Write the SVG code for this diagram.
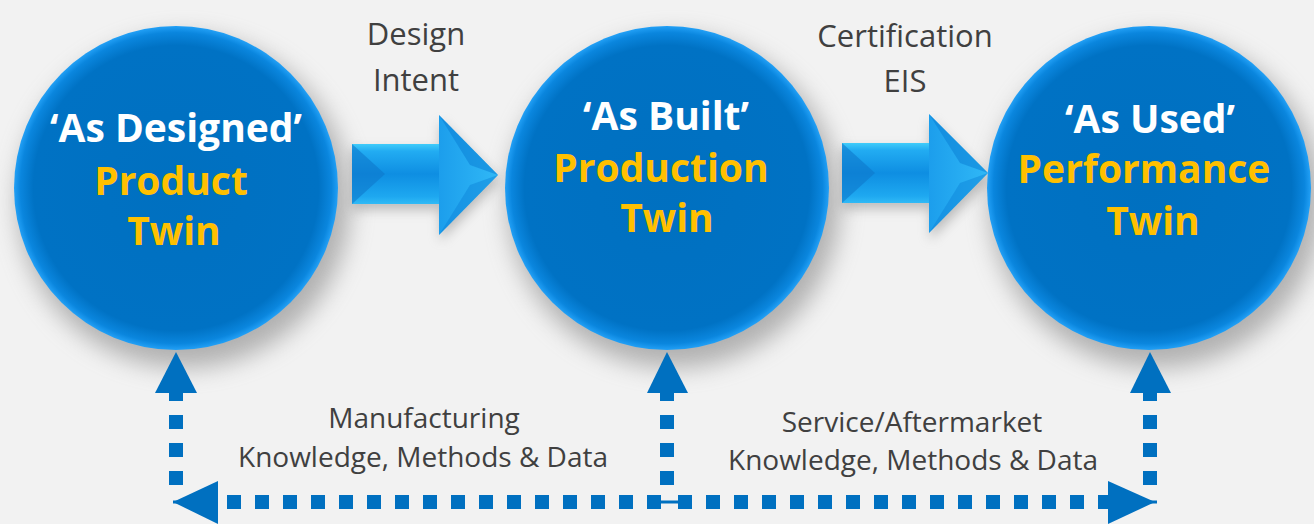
<svg xmlns="http://www.w3.org/2000/svg" width="1314" height="524" viewBox="0 0 1314 524">
<style>
.lbl{font-family:"Open Sans","Liberation Sans",sans-serif;font-size:28px;fill:#404040;text-anchor:middle}
.top{font-size:31px}
.ttl{font-family:"Open Sans","Liberation Sans",sans-serif;font-weight:700;font-size:39px;text-anchor:middle}
.w{fill:#ffffff}
.y{fill:#ffc000}
.dot{fill:none;stroke:#0070c0;stroke-width:14;stroke-dasharray:14 14}
.thin{stroke:#0070c0;stroke-width:3}
.head{fill:#0070c0}
</style>
<defs>
<radialGradient id="cg" cx="0.5" cy="0.5" r="0.5">
<stop offset="0" stop-color="#0070c0"/>
<stop offset="0.88" stop-color="#0072c4"/>
<stop offset="0.96" stop-color="#0a86de"/>
<stop offset="1" stop-color="#22a0f6"/>
</radialGradient>
<linearGradient id="bodyg" x1="0" y1="0" x2="0" y2="1">
<stop offset="0" stop-color="#40ccfa"/>
<stop offset="0.12" stop-color="#22acf2"/>
<stop offset="0.5" stop-color="#0e8ee2"/>
<stop offset="0.88" stop-color="#1ea8f0"/>
<stop offset="1" stop-color="#30baf6"/>
</linearGradient>
<linearGradient id="headg" x1="0" y1="0" x2="1" y2="0">
<stop offset="0" stop-color="#1c9eec"/>
<stop offset="1" stop-color="#30b8f6"/>
</linearGradient>
<filter id="sh" x="-30%" y="-30%" width="160%" height="160%">
<feGaussianBlur stdDeviation="12"/>
</filter>
<filter id="ash" x="-30%" y="-50%" width="160%" height="200%">
<feGaussianBlur stdDeviation="6"/>
</filter>
</defs>
<rect width="1314" height="524" fill="#f2f2f2"/>

<g id="shadows">
<circle cx="184" cy="202" r="166" fill="#7a7a7a" opacity="0.55" filter="url(#sh)"/>
<circle cx="674" cy="202" r="166" fill="#7a7a7a" opacity="0.55" filter="url(#sh)"/>
<circle cx="1156" cy="202" r="166" fill="#7a7a7a" opacity="0.55" filter="url(#sh)"/>
<path d="M352,150 H440 V121 L500,181 L440,241 V210 H352 Z" fill="#888" opacity="0.5" filter="url(#ash)"/>
<path d="M842,149 H930 V120 L990,180 L930,240 V209 H842 Z" fill="#888" opacity="0.5" filter="url(#ash)"/>
</g>

<g id="arrow1">
<rect x="352" y="144" width="88" height="60" fill="url(#bodyg)"/>
<polygon points="352,144 385,174 352,204" fill="#0d78cc" opacity="0.6"/>
<polygon points="439,115 498,175 439,235" fill="url(#headg)"/>
<polygon points="439,115 470,165 498,175" fill="#0b80d6" opacity="0.55"/>
<polygon points="439,235 470,185 498,175" fill="#0b80d6" opacity="0.45"/>
</g>
<g id="arrow2">
<rect x="842" y="143" width="88" height="60" fill="url(#bodyg)"/>
<polygon points="842,143 875,173 842,203" fill="#0d78cc" opacity="0.6"/>
<polygon points="929,114 988,173 929,233" fill="url(#headg)"/>
<polygon points="929,114 960,163 988,173" fill="#0b80d6" opacity="0.55"/>
<polygon points="929,233 960,183 988,173" fill="#0b80d6" opacity="0.45"/>
</g>

<g id="node-designed">
<circle cx="176" cy="188" r="162" fill="url(#cg)"/>
<text class="ttl w" x="176" y="142">‘As Designed’</text>
<text class="ttl y" x="171" y="195">Product</text>
<text class="ttl y" x="174" y="245">Twin</text>
</g>
<g id="node-built">
<circle cx="667" cy="188" r="162" fill="url(#cg)"/>
<text class="ttl w" x="666" y="130">‘As Built’</text>
<text class="ttl y" x="661" y="182">Production</text>
<text class="ttl y" x="667" y="232">Twin</text>
</g>
<g id="node-used">
<circle cx="1149" cy="188" r="162" fill="url(#cg)"/>
<text class="ttl w" x="1150" y="133">‘As Used’</text>
<text class="ttl y" x="1144" y="183">Performance</text>
<text class="ttl y" x="1153" y="235">Twin</text>
</g>

<g id="labels">
<text class="lbl top" x="416" y="45">Design</text>
<text class="lbl top" x="416" y="91">Intent</text>
<text class="lbl top" x="905" y="47">Certification</text>
<text class="lbl top" x="905" y="92">EIS</text>
<text class="lbl" x="424" y="428">Manufacturing</text>
<text class="lbl" x="423" y="467">Knowledge, Methods &amp; Data</text>
<text class="lbl" x="912" y="432">Service/Aftermarket</text>
<text class="lbl" x="913" y="470">Knowledge, Methods &amp; Data</text>
</g>

<g id="connectors">
<path class="dot" d="M176,387 V490"/>
<path class="dot" d="M667,387 V490"/>
<path class="dot" d="M1150,387 V490"/>
<path class="dot" d="M227,502 H663"/>
<path class="dot" d="M678,502 H1108"/>
<line class="thin" x1="173" y1="502" x2="183" y2="502"/>
<line class="thin" x1="660" y1="502" x2="680" y2="502"/>
<line class="thin" x1="1150" y1="502" x2="1157" y2="502"/>
<polygon class="head" points="176,352 155,393 197,393"/>
<polygon class="head" points="667,352 647,393 688,393"/>
<polygon class="head" points="1150,352 1130,393 1171,393"/>
<polygon class="head" points="173,502 218,481 218,524"/>
<polygon class="head" points="1155,502 1108,481 1108,524"/>
</g>
</svg>
